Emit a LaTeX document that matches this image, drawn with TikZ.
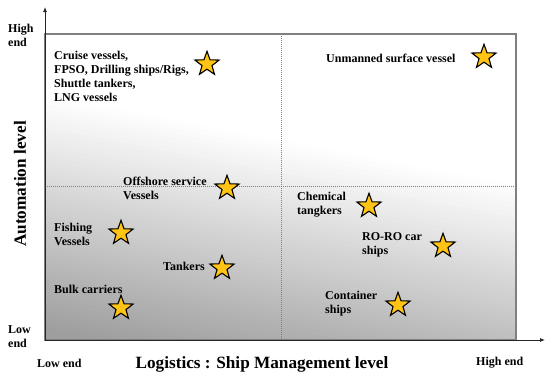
\documentclass[tikz,border=0pt]{standalone}
\usepackage{fontspec}
\setmainfont{Liberation Serif}
\usetikzlibrary{shapes.geometric,arrows.meta}
\definecolor{staryellow}{RGB}{255,196,20}
\definecolor{boxgray}{RGB}{128,128,128}
\begin{document}
\begin{tikzpicture}[x=1pt,y=-1pt,
  lbl/.style={font=\fontsize{12}{14}\selectfont\bfseries, align=left, inner sep=0pt, anchor=west},
  ttl/.style={font=\fontsize{17.2}{18}\selectfont\bfseries, inner sep=0pt},
  mstar/.style={star, star points=5, star point ratio=2.45, minimum size=25.5pt, inner sep=0pt, draw=black, line width=1.1pt, fill=staryellow},
  divider/.style={draw=gray, line width=0.6pt, dash pattern=on 1.2pt off 0.8pt},
  axisline/.style={draw=black!85, line width=0.8pt, -{Latex[length=5pt,width=4pt]}}]
\useasboundingbox (0,0) rectangle (550,378);
% shading
\begin{scope}
  \clip (45,34) rectangle (516,340);
  \fill[white] (45,34) rectangle (516,340);
  \begin{scope}[rotate around={-10.8:(45,95)}]
    \foreach \i in {0,...,49} {
      \pgfmathsetmacro\pc{38*(\i+0.5)/50}
      \fill[black!\pc] (-300,{95+\i*4.6}) rectangle (900,{95+(\i+1)*4.6+0.4});
    }
    \fill[black!38] (-300,325) rectangle (900,800);
  \end{scope}
\end{scope}
% frame
\draw[boxgray, line width=1.2pt] (45,34) rectangle (516,340);
\draw[divider] (281,34) -- (281,340);
\draw[divider] (45,186) -- (516,186);
% axes
\coordinate (origin) at (45,340);
\coordinate (ytip) at (45,7);
\coordinate (xtip) at (545,340);
\draw[axisline] (origin) -- (ytip);
\draw[axisline] (origin) -- (xtip);
% axis labels
\node[ttl, rotate=90] (ylab) at (20,184) {Automation level};
\node[ttl] (xlab) at (262,364) {Logistics : Ship Management level};
\node[lbl] (yhigh) at (8,35) {High\\end};
\node[lbl] (ylow) at (8,337) {Low\\end};
\node[lbl] (xlow) at (37,363) {Low end};
\node[lbl] (xhigh) at (476,363) {High end};
% labels
\node[lbl] (tcruise) at (54,76) {Cruise vessels,\\FPSO, Drilling ships/Rigs,\\Shuttle tankers,\\LNG vessels};
\node[lbl] (tunm) at (326,58) {Unmanned surface vessel};
\node[lbl] (toff) at (123,188) {Offshore service\\Vessels};
\node[lbl] (tfish) at (54,234) {Fishing\\Vessels};
\node[lbl] (ttank) at (163,266) {Tankers};
\node[lbl] (tbulk) at (54,289) {Bulk carriers};
\node[lbl] (tchem) at (297,205) {Chemical\\tangkers};
\node[lbl] (troro) at (362,245) {RO-RO car\\ships};
\node[lbl] (tcont) at (325,304) {Container\\ships};
% stars
\node[mstar] (scruise) at (207,64) {};
\node[mstar] (sunm) at (484,57) {};
\node[mstar] (soff) at (227,188) {};
\node[mstar] (sfish) at (121,233) {};
\node[mstar] (stank) at (222,268) {};
\node[mstar] (sbulk) at (121,308) {};
\node[mstar] (schem) at (369,206) {};
\node[mstar] (sroro) at (443,246) {};
\node[mstar] (scont) at (398,305) {};
\end{tikzpicture}
\end{document}
